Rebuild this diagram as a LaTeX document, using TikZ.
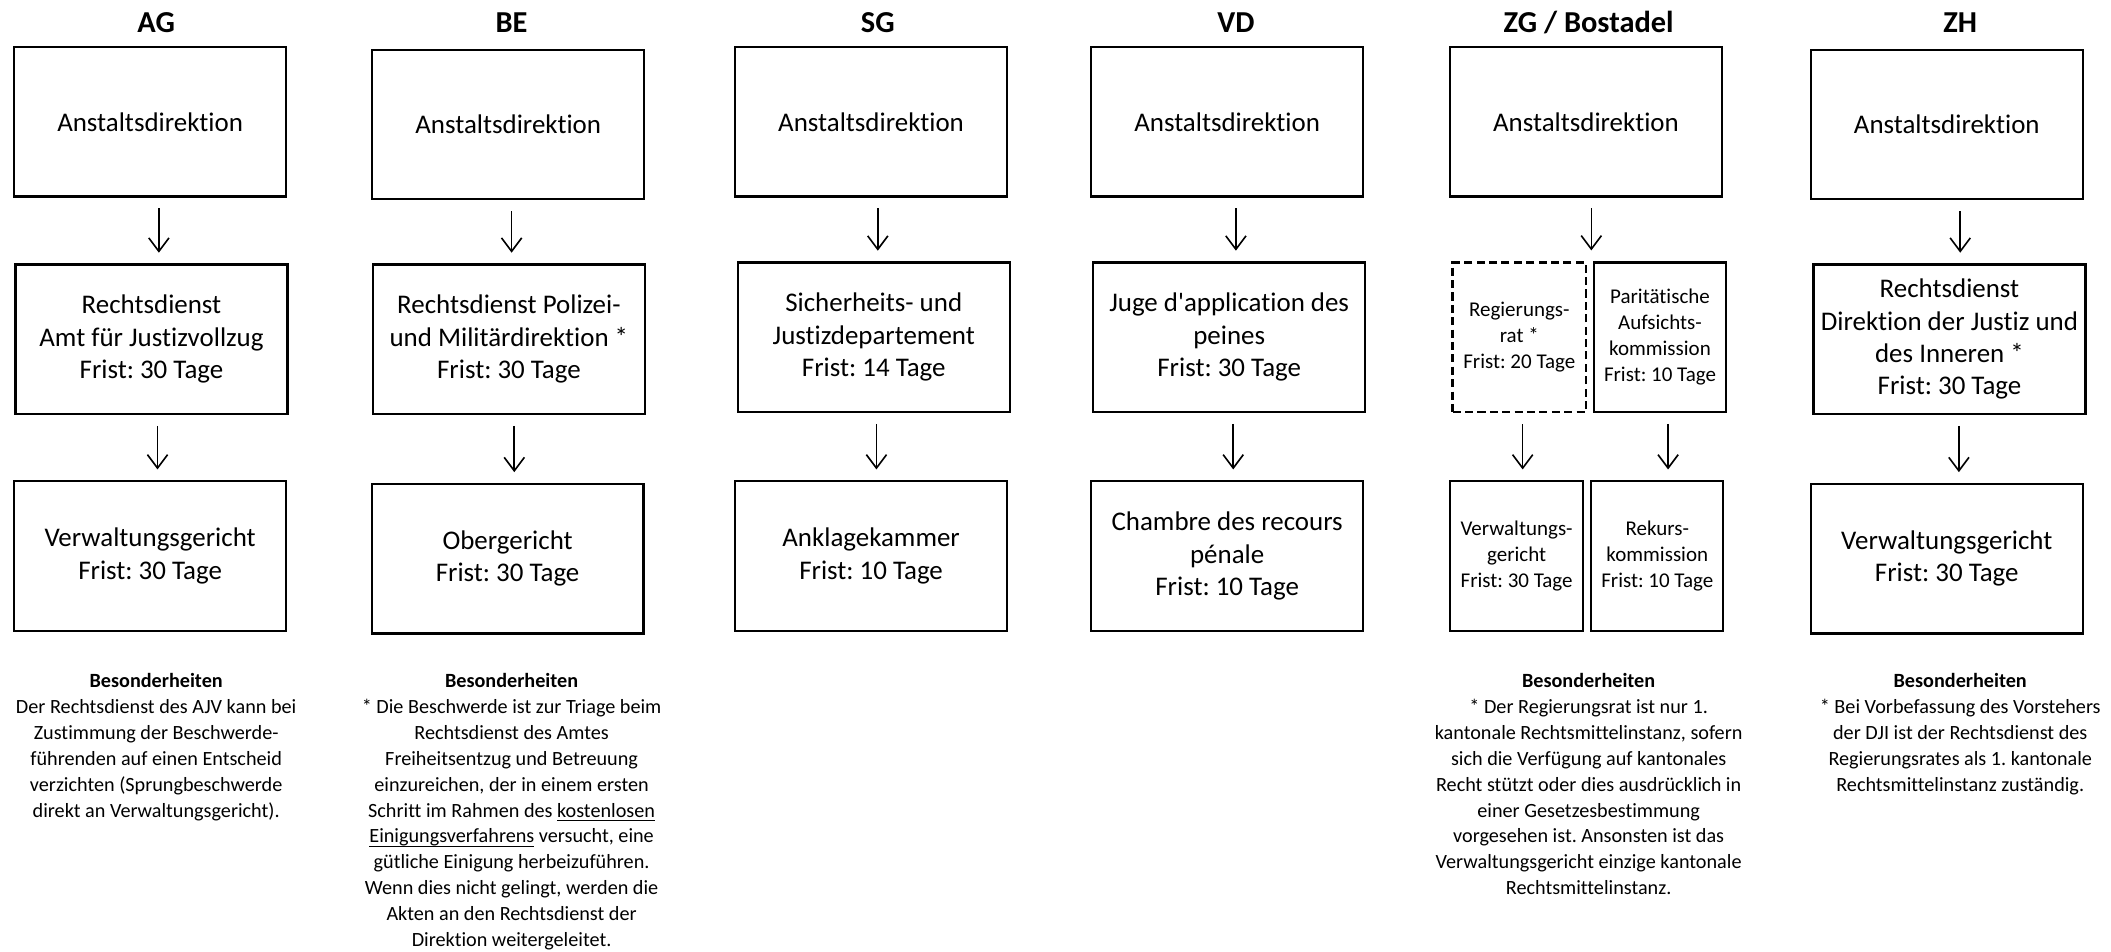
\documentclass[tikz,border=0pt]{standalone}
\usepackage{fontspec}
\setmainfont{Carlito}[Ligatures=NoCommon]
\usetikzlibrary{arrows.meta,calc}
% underline that sits just under the baseline, crossing descenders
\newcommand{\undl}[1]{\underline{\smash{\hbox{#1}}}}
\frenchspacing
\begin{document}
\begin{tikzpicture}[x=0.5pt,y=-0.5pt,
  box/.style={draw, line width=0.8pt, minimum width=101pt, minimum height=55.5pt,
    align=center, inner sep=1pt, font=\fontsize{10}{12}\selectfont},
  smallbox/.style={box, minimum width=49.5pt, font=\fontsize{7.8}{9.6}\selectfont},
  dashbox/.style={smallbox, line width=1pt, dash pattern=on 3pt off 1.6pt},
  head/.style={font=\fontsize{11.3}{13}\selectfont\bfseries},
  note/.style={align=center, anchor=north, inner sep=0pt,
    font=\fontsize{7.5}{9.6}\selectfont},
  arr/.style={-{Straight Barb[length=5pt,width=7.5pt,line width=0.6pt]},
    line width=0.6pt, shorten <=4pt, shorten >=4pt}
]
\useasboundingbox (0,0) rectangle (1568,707);

% ---------- AG ----------
\node[head] (tAG) at (116,17) {AG};
\node[box] (ag1) at (111.5,90.5) {Anstaltsdirektion};
\node[box] (ag2) at (112.5,252) {Rechtsdienst\\Amt für Justizvollzug\\Frist: 30 Tage};
\node[box] (ag3) at (111.5,413) {Verwaltungsgericht\\Frist: 30 Tage};
\coordinate (xag1) at (118,0);
\coordinate (xag2) at (117,0);
\draw[arr] (ag1.south -| xag1) -- (ag2.north -| xag1);
\draw[arr] (ag2.south -| xag2) -- (ag3.north -| xag2);
\node[note] (nAG) at (116,500) {\textbf{Besonderheiten}\\
  Der Rechtsdienst des AJV kann bei\\
  Zustimmung der Beschwerde-\\
  führenden auf einen Entscheid\\
  verzichten (Sprungbeschwerde\\
  direkt an Verwaltungsgericht).};

% ---------- BE ----------
\node[head] (tBE) at (380,17) {BE};
\node[box] (be1) at (377.5,92.5) {Anstaltsdirektion};
\node[box] (be2) at (378,252) {Rechtsdienst Polizei-\\und Militärdirektion *\\Frist: 30 Tage};
\node[box] (be3) at (377,415) {Obergericht\\Frist: 30 Tage};
\coordinate (xbe1) at (380,0);
\coordinate (xbe2) at (382,0);
\draw[arr] (be1.south -| xbe1) -- (be2.north -| xbe1);
\draw[arr] (be2.south -| xbe2) -- (be3.north -| xbe2);
\node[note] (nBE) at (380,500) {\textbf{Besonderheiten}\\
  * Die Beschwerde ist zur Triage beim\\
  Rechtsdienst des Amtes\\
  Freiheitsentzug und Betreuung\\
  einzureichen, der in einem ersten\\
  Schritt im Rahmen des \undl{kostenlosen}\\
  \undl{Einigungsverfahrens} versucht, eine\\
  gütliche Einigung herbeizuführen.\\
  Wenn dies nicht gelingt, werden die\\
  Akten an den Rechtsdienst der\\
  Direktion weitergeleitet.};

% ---------- SG ----------
\node[head] (tSG) at (652,17) {SG};
\node[box] (sg1) at (647,90.5) {Anstaltsdirektion};
\node[box] (sg2) at (649,250.5) {Sicherheits- und\\Justizdepartement\\Frist: 14 Tage};
\node[box] (sg3) at (647,413) {Anklagekammer\\Frist: 10 Tage};
\coordinate (xsg1) at (652,0);
\coordinate (xsg2) at (651,0);
\draw[arr] (sg1.south -| xsg1) -- (sg2.north -| xsg1);
\draw[arr] (sg2.south -| xsg2) -- (sg3.north -| xsg2);

% ---------- VD ----------
\node[head] (tVD) at (918,17) {VD};
\node[box] (vd1) at (911.5,90.5) {Anstaltsdirektion};
\node[box] (vd2) at (913,250.5) {Juge d\textquotesingle application des\\peines\\Frist: 30 Tage};
\node[box] (vd3) at (911.5,413) {Chambre des recours\\pénale\\Frist: 10 Tage};
\coordinate (xvd1) at (918,0);
\coordinate (xvd2) at (916,0);
\draw[arr] (vd1.south -| xvd1) -- (vd2.north -| xvd1);
\draw[arr] (vd2.south -| xvd2) -- (vd3.north -| xvd2);

% ---------- ZG / Bostadel ----------
\node[head] (tZG) at (1180,17) {ZG / Bostadel};
\node[box] (zg1) at (1178,90.5) {Anstaltsdirektion};
\node[dashbox] (zg2a) at (1128.5,250.5) {Regierungs-\\rat *\\Frist: 20 Tage};
\node[smallbox, minimum width=49pt] (zg2b) at (1233,250.5) {Paritätische\\Aufsichts-\\kommission\\Frist: 10 Tage};
\node[smallbox] (zg3a) at (1126.5,413) {Verwaltungs-\\gericht\\Frist: 30 Tage};
\node[smallbox, minimum width=49pt] (zg3b) at (1231,413) {Rekurs-\\kommission\\Frist: 10 Tage};
\coordinate (xzg1) at (1182,0);
\coordinate (xzg2) at (1131,0);
\coordinate (xzg3) at (1239,0);
\draw[arr] (zg1.south -| xzg1) -- (zg2a.north -| xzg1);
\draw[arr] (zg2a.south -| xzg2) -- (zg3a.north -| xzg2);
\draw[arr] (zg2b.south -| xzg3) -- (zg3b.north -| xzg3);
\node[note] (nZG) at (1180,500) {\textbf{Besonderheiten}\\
  * Der Regierungsrat ist nur 1.\\
  kantonale Rechtsmittelinstanz, sofern\\
  sich die Verfügung auf kantonales\\
  Recht stützt oder dies ausdrücklich in\\
  einer Gesetzesbestimmung\\
  vorgesehen ist. Ansonsten ist das\\
  Verwaltungsgericht einzige kantonale\\
  Rechtsmittelinstanz.};

% ---------- ZH ----------
\node[head] (tZH) at (1456,17) {ZH};
\node[box] (zh1) at (1446,92.5) {Anstaltsdirektion};
\node[box] (zh2) at (1448,252) {Rechtsdienst\\Direktion der Justiz und\\des Inneren *\\Frist: 30 Tage};
\node[box] (zh3) at (1446,415) {Verwaltungsgericht\\Frist: 30 Tage};
\coordinate (xzh1) at (1456,0);
\coordinate (xzh2) at (1455,0);
\draw[arr] (zh1.south -| xzh1) -- (zh2.north -| xzh1);
\draw[arr] (zh2.south -| xzh2) -- (zh3.north -| xzh2);
\node[note] (nZH) at (1456,500) {\textbf{Besonderheiten}\\
  * Bei Vorbefassung des Vorstehers\\
  der DJI ist der Rechtsdienst des\\
  Regierungsrates als 1. kantonale\\
  Rechtsmittelinstanz zuständig.};
\end{tikzpicture}
\end{document}
